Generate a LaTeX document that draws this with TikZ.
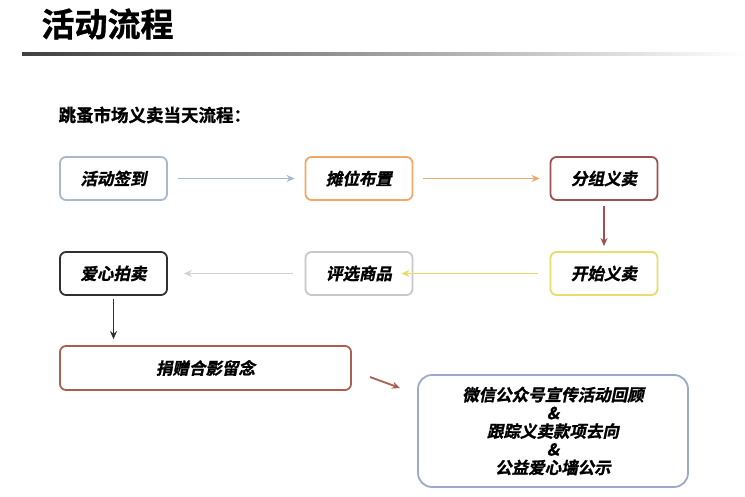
\documentclass[tikz,border=0pt]{standalone}
\usepackage{fontspec}
\newfontfamily\cjk[UprightFont=* Bold, FakeSlant=0.2, FakeBold=1.2]{Noto Sans CJK SC}
\newfontfamily\cjkt[UprightFont=* Bold, FakeBold=1]{Noto Sans CJK SC}
\usetikzlibrary{arrows.meta}
\definecolor{cBlue}{HTML}{A9B8CC}
\definecolor{cOrange}{HTML}{F0A868}
\definecolor{cRed}{HTML}{A05050}
\definecolor{cYellow}{HTML}{E8DC6A}
\definecolor{cGray}{HTML}{C8C8CC}
\definecolor{cBlack}{HTML}{303030}
\definecolor{cBrown}{HTML}{A86050}
\definecolor{cFinal}{HTML}{9AAAC8}
\tikzset{
  stepbox/.style={draw, rounded corners=6pt, line width=1.8pt, fill=white,
    minimum width=107pt, minimum height=43pt, font=\cjk\fontsize{16.5}{18}\selectfont, inner sep=2pt},
  flow/.style={-{Stealth[length=8pt,width=7pt]}, line width=1.8pt}
}
\begin{document}
\begin{tikzpicture}[x=1pt,y=-1pt]
\useasboundingbox[fill=white] (0,0) rectangle (745,497);
\node[anchor=west, font=\cjkt\fontsize{33}{36}\selectfont] (title) at (38,24) {活动流程};
\shade[left color=black!75, right color=white] (22,53) rectangle (745,55.5);
\node[anchor=west, font=\cjkt\fontsize{17.5}{20}\selectfont] (sub) at (55,115) {跳蚤市场义卖当天流程：};

\node[stepbox, draw=cBlue] (a) at (113.5,178.5) {活动签到};
\node[stepbox, draw=cOrange] (b) at (359,178.5) {摊位布置};
\node[stepbox, draw=cRed] (c) at (604,178.5) {分组义卖};
\node[stepbox, draw=cYellow] (d) at (604,273.5) {开始义卖};
\node[stepbox, draw=cGray] (e) at (359,273.5) {评选商品};
\node[stepbox, draw=cBlack] (f) at (113.5,273.5) {爱心拍卖};
\node[stepbox, draw=cBrown, minimum width=291pt, minimum height=44pt] (g) at (205.5,368) {捐赠合影留念};
\node[stepbox, draw=cFinal, minimum width=270pt, minimum height=112pt, rounded corners=14pt,
  align=center, font=\cjk\fontsize{16.5}{18.2}\selectfont] (h) at (553,431) {微信公众号宣传活动回顾\\\&\\跟踪义卖款项去向\\\&\\公益爱心墙公示};

\draw[flow, cBlue] ([xshift=10pt]a.east) -- ([xshift=-10pt]b.west);
\draw[flow, cOrange] ([xshift=10pt]b.east) -- ([xshift=-10pt]c.west);
\draw[flow, cRed] ([yshift=-5pt]c.south) -- ([yshift=5pt]d.north);
\draw[flow, cYellow] ([xshift=-12pt]d.west) -- ([xshift=-12pt]e.east);
\draw[flow, cGray!80] ([xshift=-12pt]e.west) -- ([xshift=16pt]f.east);
\draw[flow, cBlack] ([yshift=-3pt]f.south) -- ([yshift=6pt]g.north -| f.south);
\coordinate (p1) at (370,377);
\coordinate (p2) at (400,388);
\draw[flow, cBrown] (p1) -- (p2);
\end{tikzpicture}
\end{document}
